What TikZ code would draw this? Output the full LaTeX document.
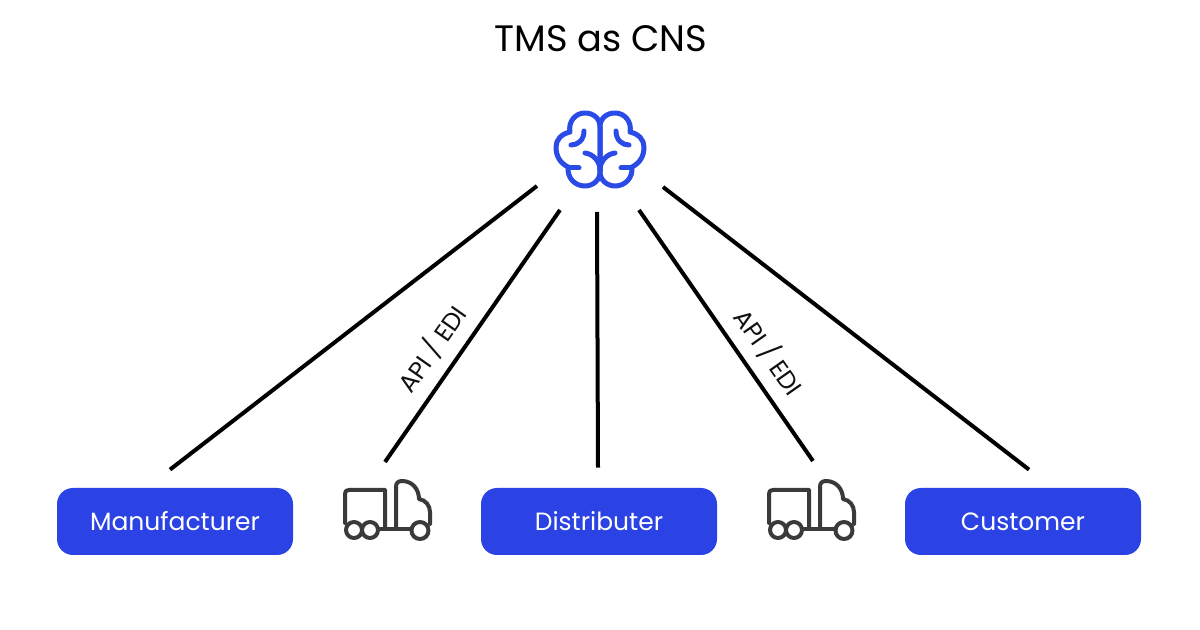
\documentclass[tikz,border=0pt]{standalone}
\usepackage{fontspec}
\setmainfont{Poppins}
\usetikzlibrary{calc}
\definecolor{nodeBlue}{HTML}{2B43E4}
\definecolor{iconBlue}{HTML}{2B4BE6}
\definecolor{ink}{HTML}{111111}
\definecolor{truckGray}{HTML}{3A3A3A}

\begin{document}
\begin{tikzpicture}[
  x=0.5pt, y=-0.5pt,
  title/.style={font=\fontsize{18.4}{22}\selectfont, text=black},
  party/.style={fill=nodeBlue, rounded corners=8pt, minimum width=118pt, minimum height=33.5pt, inner sep=0pt, text=white, font=\fontsize{12.5}{15}\selectfont},
  link/.style={line width=2pt, draw=black},
  tinylabel/.style={font=\fontsize{12.4}{15}\selectfont, text=ink, inner sep=0pt},
  brainline/.style={draw=iconBlue, line width=2.5pt, line cap=round, line join=round},
  truckline/.style={draw=truckGray, line width=2pt, line cap=round, line join=round},
  wheel/.style={truckline, fill=white}
]
\useasboundingbox (0,0) rectangle (1200,630);

% ------------------------------------------------------------------
% Title and hub icon
% ------------------------------------------------------------------
\node[title] (heading) at (601,38.5) {TMS as CNS};

\coordinate (brain) at (600,0);
\foreach \side in {1,-1} {
  \begin{scope}[shift={(brain)}, xscale=\side]
    \draw[brainline] (0,172) -- (0,127) .. controls (0,118) and (-7,113) .. (-15,113)
      .. controls (-25,113) and (-32,122) .. (-30,132)
      .. controls (-39,134) and (-44,140) .. (-44,147)
      .. controls (-44,156) and (-40,163) .. (-32,167)
      .. controls (-33,178) and (-25,186) .. (-15,186)
      .. controls (-7,186) and (0,180) .. (0,172);
    \draw[brainline] (-16,131) .. controls (-16,140) and (-22,145) .. (-29,145);
    \draw[brainline] (-15,153) .. controls (-7,154) and (0,161) .. (0,170);
    \draw[brainline] (-32,168) -- (-21,168);
  \end{scope}
}

% ------------------------------------------------------------------
% Parties
% ------------------------------------------------------------------
\node[party] (manu) at (175,521.5) {Manufacturer};
\node[party] (dist) at (599,521.5) {Distributer};
\node[party] (cust) at (1023,521.5) {Customer};

% ------------------------------------------------------------------
% Trucks
% ------------------------------------------------------------------
\foreach \tx/\tname in {0/truckA,424/truckB} {
  \begin{scope}[shift={(\tx,0)}]
    \coordinate (\tname) at (387,500);
    \draw[truckline] (345,523) -- (345,494) .. controls (345,491) and (346,490) .. (349,490) -- (385,490) -- (385,529);
    \draw[truckline] (378,529) -- (412,529);
    \draw[truckline] (396,529) -- (396,487) .. controls (396,483) and (398,481) .. (402,481)
      .. controls (413,481) and (419,490) .. (419,499)
      .. controls (426,500) and (430,506) .. (430,512) -- (430,524);
    \draw[wheel] (354,530) circle[radius=8];
    \draw[wheel] (370,530) circle[radius=8];
    \draw[wheel] (420,530.5) circle[radius=8.5];
  \end{scope}
}

% ------------------------------------------------------------------
% Links to the hub
% ------------------------------------------------------------------
\coordinate (hubA) at (537,186);
\coordinate (hubB) at (560,210);
\coordinate (hubC) at (597,212);
\coordinate (hubD) at (639,210);
\coordinate (hubE) at (663,187);
\coordinate (manuTop) at ($(manu.north)+(-5,-18)$);
\coordinate (truckATop) at (385,462);
\coordinate (distTop) at ($(dist.north)+(-1,-20)$);
\coordinate (truckBTop) at (813,461);
\coordinate (custTop) at ($(cust.north)+(6,-18)$);

\draw[link] (manuTop) -- (hubA);
\draw[link] (truckATop) -- (hubB);
\draw[link] (distTop) -- (hubC);
\draw[link] (truckBTop) -- (hubD);
\draw[link] (custTop) -- (hubE);

\node[tinylabel, rotate=55] (apiA) at (432,349) {API / EDI};
\node[tinylabel, rotate=-55] (apiB) at (769,352) {API / EDI};

\end{tikzpicture}
\end{document}
